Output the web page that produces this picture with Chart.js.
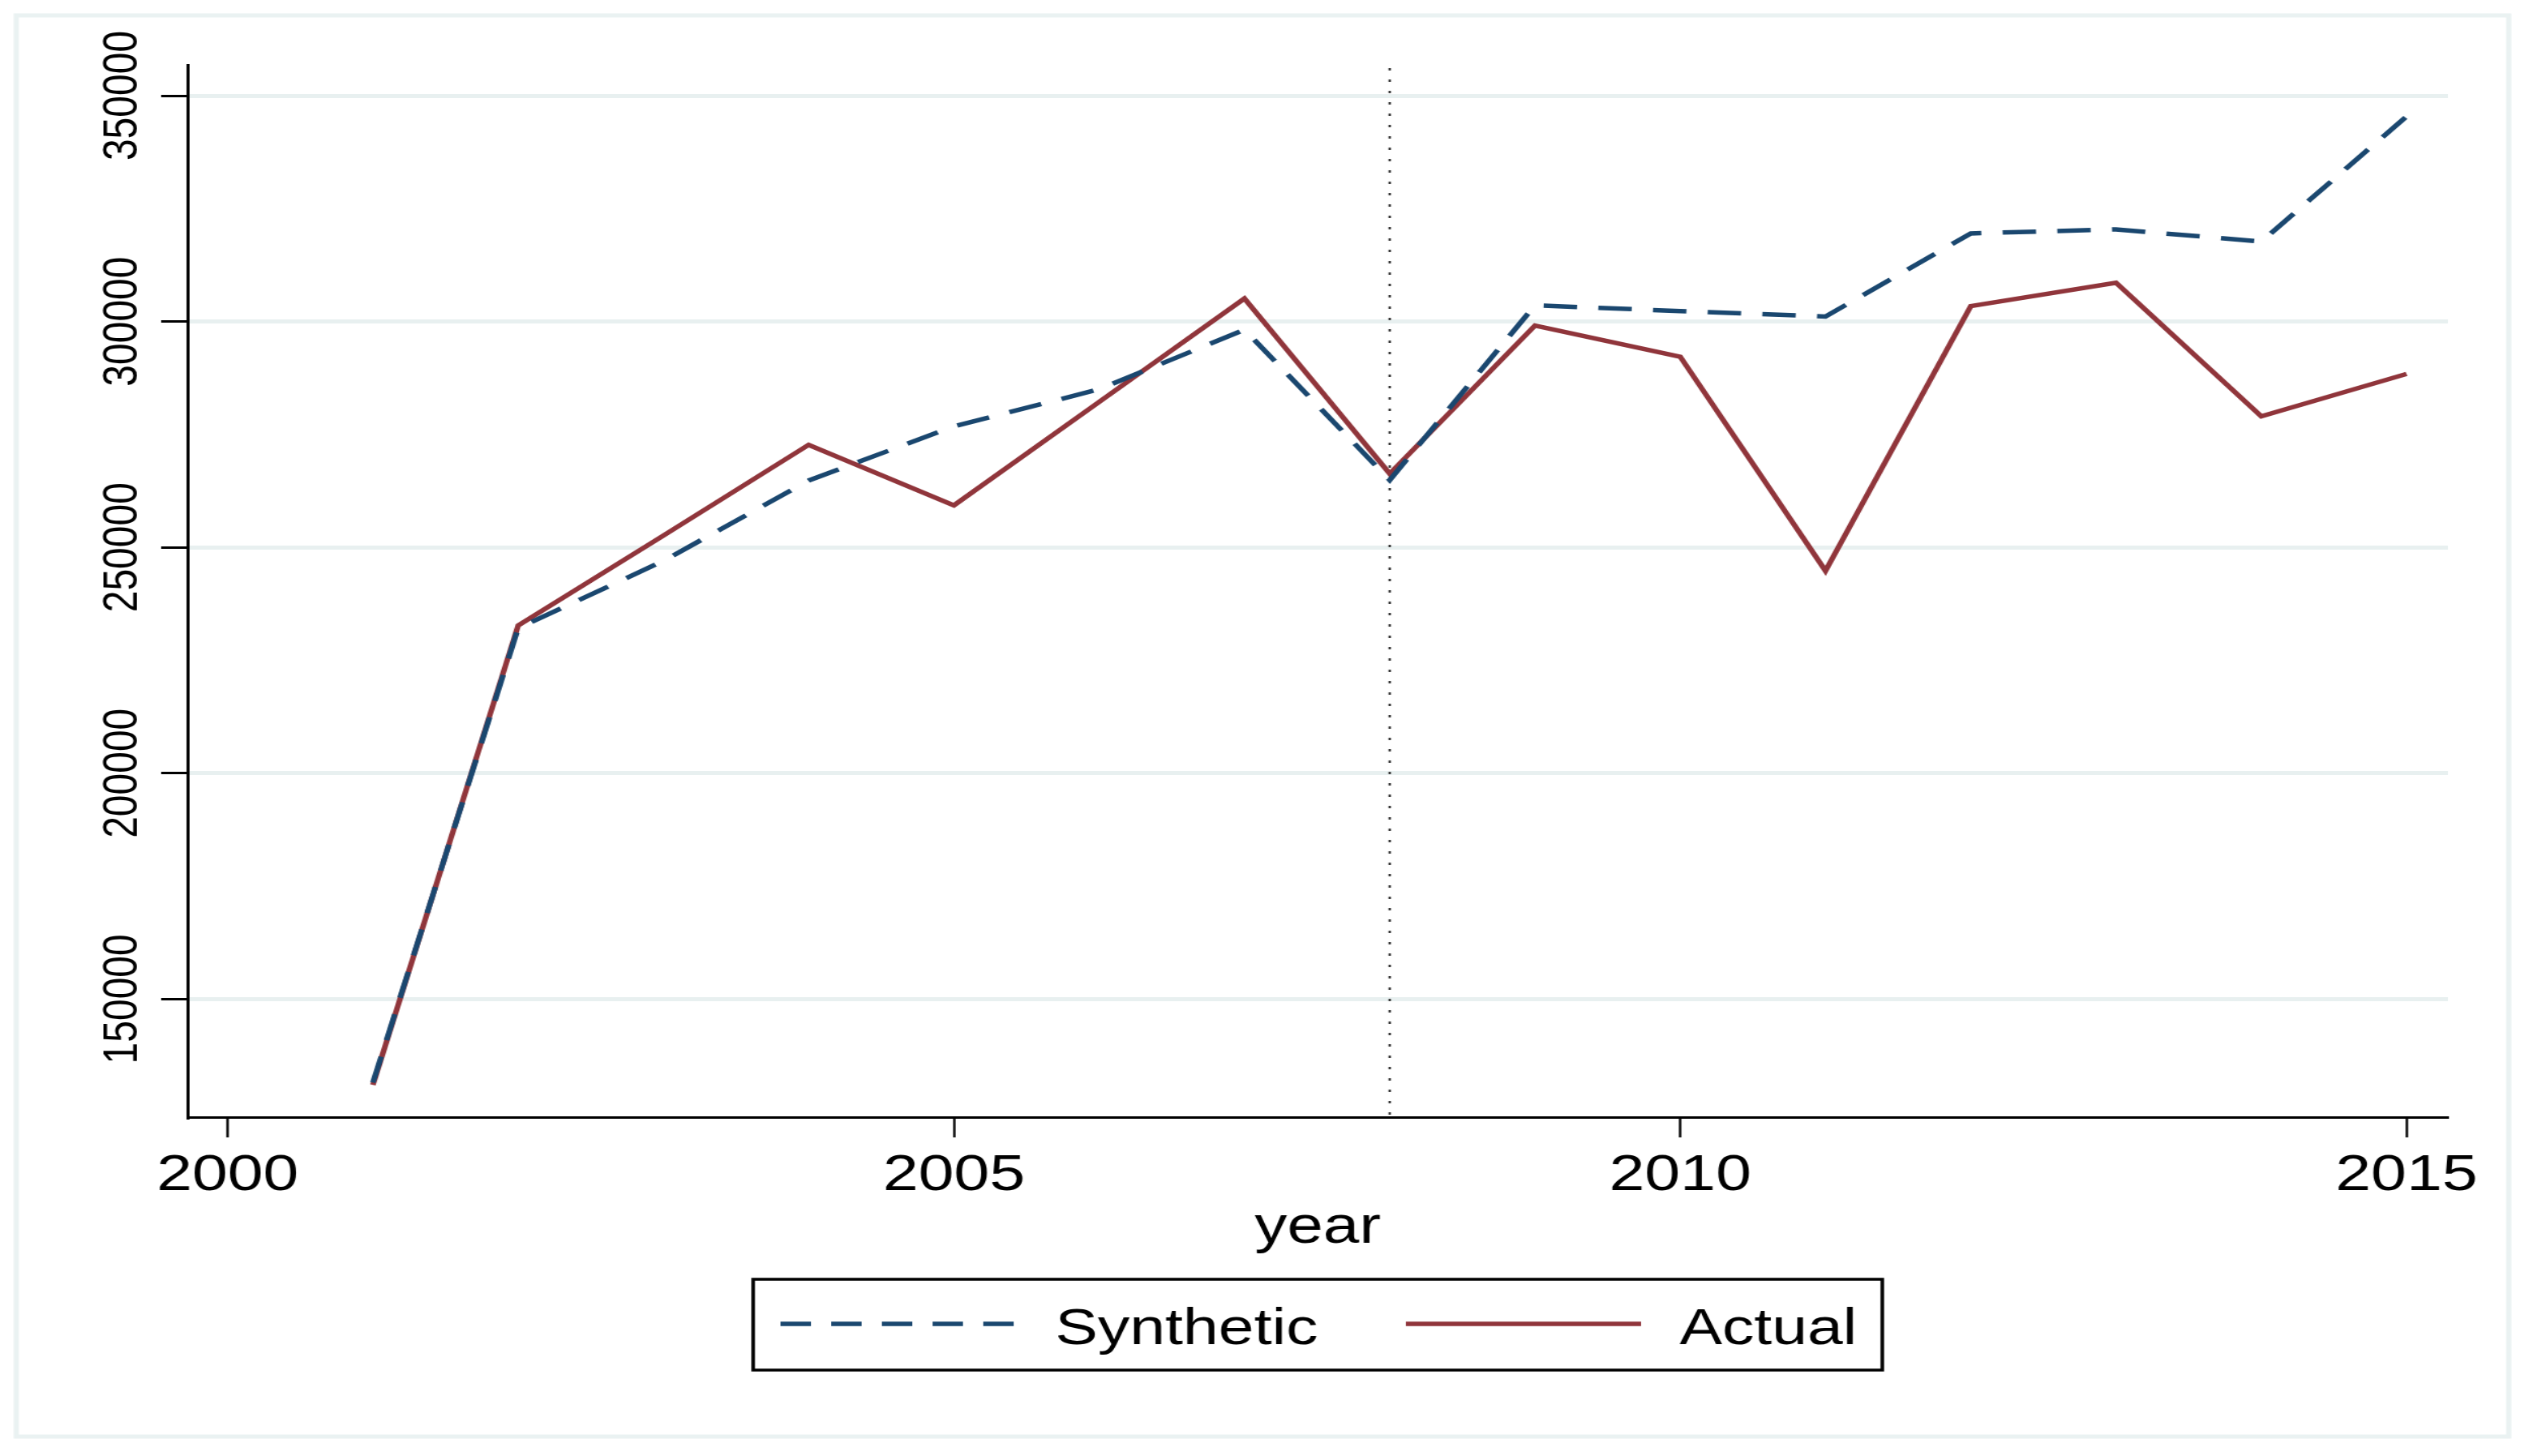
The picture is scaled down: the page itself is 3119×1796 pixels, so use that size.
<!DOCTYPE html>
<html>
<head>
<meta charset="utf-8">
<script src="https://cdn.jsdelivr.net/npm/chart.js@4.4.1/dist/chart.umd.min.js"></script>
<style>
html, body { margin: 0; padding: 0; background: #ffffff; overflow: hidden; }
#wrap { position: absolute; left: 0; top: 0; width: 2495px; height: 1796px; transform-origin: 0 0; transform: scaleX(1.2501); }
canvas { display: block; }
</style>
</head>
<body>
<div id="wrap"><canvas id="c"></canvas></div>
<script>
// ---- data ----
const years = [2001, 2002, 2003, 2004, 2005, 2006, 2007, 2008, 2009, 2010, 2011, 2012, 2013, 2014, 2015];
const synthetic = [131500, 232100, 247000, 264800, 276800, 285000, 298200, 264900, 303600, 302300, 301100, 319500, 320400, 317700, 345400];
const actual = [131000, 232700, 252600, 272700, 259300, 282200, 305100, 266300, 299100, 292200, 244800, 303400, 308600, 279000, 288400];
const xTickValues = [2000, 2005, 2010, 2015];
const yTickValues = [150000, 200000, 250000, 300000, 350000];
const interventionYear = 2008;
const seriesNames = ['Synthetic', 'Actual'];
const xAxisTitle = 'year';

// ---- styles ----
const FONT = "'Liberation Sans', Arial, Helvetica, sans-serif";
const NAVY = '#1a476f';
const MAROON = '#90353b';
const GRID = '#e8f0f0';

const toPoints = (vals) => years.map((yr, i) => ({ x: yr, y: vals[i] }));

const refLinePlugin = {
  id: 'refLine',
  beforeDatasetsDraw(chart) {
    const { ctx, chartArea, scales: { x } } = chart;
    const px = Math.round(x.getPixelForValue(interventionYear));
    ctx.save();
    ctx.strokeStyle = '#3a3a3a';
    ctx.lineWidth = 2.4;
    ctx.setLineDash([3, 11]);
    ctx.beginPath();
    ctx.moveTo(px, chartArea.top + 4);
    ctx.lineTo(px, chartArea.bottom);
    ctx.stroke();
    ctx.restore();
  }
};

const decorPlugin = {
  id: 'decor',
  afterDraw(chart) {
    const { ctx, chartArea, scales: { y } } = chart;
    ctx.save();
    // outer graph region frame
    ctx.strokeStyle = '#eaf2f2';
    ctx.lineWidth = 5;
    ctx.strokeRect(16, 19, 2459, 1753);

    // rotated y tick labels
    ctx.fillStyle = '#000';
    ctx.font = `48px ${FONT}`;
    ctx.textAlign = 'center';
    ctx.textBaseline = 'middle';
    y.ticks.forEach(t => {
      const py = y.getPixelForValue(t.value);
      ctx.save();
      ctx.translate(y.right - 63, py);
      ctx.rotate(-Math.PI / 2);
      ctx.fillText(String(t.value), 0, 0);
      ctx.restore();
    });

    // legend box
    const cx = (chartArea.left + chartArea.right) / 2;
    const boxW = 1114, boxH = 112, boxTop = 1578;
    const boxLeft = cx - boxW / 2;
    ctx.fillStyle = '#fff';
    ctx.fillRect(boxLeft, boxTop, boxW, boxH);
    ctx.strokeStyle = '#000';
    ctx.lineWidth = 3.5;
    ctx.strokeRect(boxLeft, boxTop, boxW, boxH);

    const ds = chart.data.datasets;
    const lineY = 1633;
    const items = [
      { x0: boxLeft + 27, x1: boxLeft + 257, tx: boxLeft + 298, dash: [30, 20] },
      { x0: boxLeft + 644, x1: boxLeft + 876, tx: boxLeft + 914, dash: [] }
    ];
    items.forEach((it, i) => {
      ctx.save();
      ctx.strokeStyle = ds[i].borderColor;
      ctx.lineWidth = ds[i].borderWidth;
      ctx.setLineDash(it.dash);
      ctx.beginPath();
      ctx.moveTo(it.x0, lineY);
      ctx.lineTo(it.x1, lineY);
      ctx.stroke();
      ctx.restore();
      ctx.fillStyle = '#000';
      ctx.font = `63px ${FONT}`;
      ctx.textAlign = 'left';
      ctx.textBaseline = 'alphabetic';
      ctx.fillText(ds[i].label, it.tx, 1658);
    });
    ctx.restore();
  }
};

new Chart(document.getElementById('c'), {
  type: 'line',
  data: {
    datasets: [
      {
        label: seriesNames[0],
        data: toPoints(synthetic),
        borderColor: NAVY,
        backgroundColor: NAVY,
        borderWidth: 5.5,
        borderDash: [33, 21],
        pointRadius: 0,
        tension: 0,
        fill: false
      },
      {
        label: seriesNames[1],
        data: toPoints(actual),
        borderColor: MAROON,
        backgroundColor: MAROON,
        borderWidth: 5.5,
        pointRadius: 0,
        tension: 0,
        fill: false
      }
    ]
  },
  options: {
    responsive: true,
    maintainAspectRatio: false,
    animation: false,
    events: [],
    layout: { padding: { left: 0, top: 80, right: 80, bottom: 242 } },
    plugins: {
      legend: { display: false },
      tooltip: { enabled: false },
      title: { display: false }
    },
    scales: {
      x: {
        type: 'linear',
        min: 1999.724,
        max: 2015.285,
        afterBuildTicks: (s) => { s.ticks = xTickValues.map(v => ({ value: v })); },
        afterFit: (s) => { s.height = 176; },
        ticks: {
          autoSkip: false,
          maxRotation: 0,
          padding: 10,
          color: '#000',
          font: { family: FONT, size: 63 },
          callback: (v) => String(v)
        },
        grid: {
          drawOnChartArea: false,
          drawTicks: true,
          tickLength: 25,
          tickColor: '#000',
          tickWidth: 2.4
        },
        border: { display: true, color: '#000', width: 3 },
        title: {
          display: true,
          text: xAxisTitle,
          color: '#000',
          font: { family: FONT, size: 64 },
          padding: { top: 0, bottom: 0 }
        }
      },
      y: {
        type: 'linear',
        min: 123860,
        max: 356822,
        afterBuildTicks: (s) => { s.ticks = yTickValues.map(v => ({ value: v })); },
        afterFit: (s) => { s.width = 185; },
        ticks: { display: false },
        grid: {
          drawOnChartArea: true,
          color: GRID,
          lineWidth: 5,
          drawTicks: true,
          tickLength: 26,
          tickColor: '#000',
          tickWidth: 3
        },
        border: { display: true, color: '#000', width: 3 }
      }
    }
  },
  plugins: [refLinePlugin, decorPlugin]
});
</script>
</body>
</html>
